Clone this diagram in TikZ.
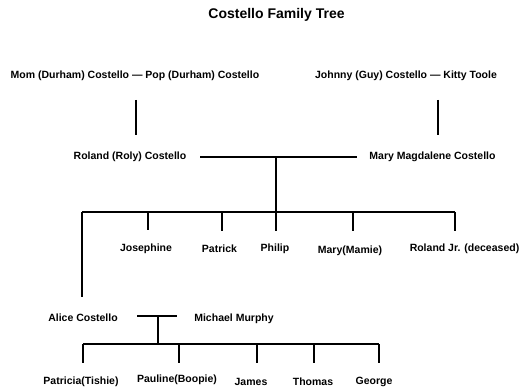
\documentclass[tikz,border=0pt]{standalone}
\usepackage{fontspec}
\setmainfont{Liberation Sans}
\usepackage{tikz}

\tikzset{
  person/.style={font=\bfseries\fontsize{10.5}{12}\selectfont, inner sep=0pt, anchor=base},
  title/.style={font=\bfseries\fontsize{14}{16}\selectfont, inner sep=0pt},
  link/.style={line width=1.2pt}
}

\begin{document}
\begin{tikzpicture}[x=1pt, y=-1pt]

   \useasboundingbox (0,0) rectangle (524,387);

   \node[title] (heading) at (276.5,15) {Costello Family Tree};

   % grandparents
   \node[person] (durham) at (135,79) {Mom (Durham) Costello — Pop (Durham) Costello};
   \node[person] (guy) at (406,79) {Johnny (Guy) Costello — Kitty Toole};

   \coordinate (durhamtop) at (136,100);
   \coordinate (durhambot) at (136,135);
   \coordinate (guytop) at (438,100);
   \coordinate (guybot) at (438,135);
   \draw[link] (durhamtop) -- (durhambot);
   \draw[link] (guytop) -- (guybot);

   % parents
   \node[person] (roland) at (130,160) {Roland (Roly) Costello};
   \node[person] (magdalene) at (432.5,160) {Mary Magdalene Costello};

   \coordinate (wedleft) at (200,157);
   \coordinate (wedright) at (357,157);
   \coordinate (wedmid) at (276,157);
   \draw[link] (wedleft) -- (wedright);

   % children
   \coordinate (sibleft) at (82,212);
   \coordinate (sibright) at (455,212);
   \draw[link] (sibleft) -- (sibright);
   \draw[link] (wedmid) -- (276,231);
   \draw[link] (148,212) -- (148,230);
   \draw[link] (222,212) -- (222,231);
   \draw[link] (353,212) -- (353,231);
   \draw[link] (sibright) -- (455,231);

   \node[person] (josephine) at (146,251.5) {Josephine};
   \node[person] (patrick) at (219.5,252.5) {Patrick};
   \node[person] (philip) at (275,251.5) {Philip};
   \node[person] (mamie) at (350,253) {Mary(Mamie)};
   \node[person] (rolandjr) at (464.5,251.5) {Roland Jr. (deceased)};

   % Alice and family
   \coordinate (alicetop) at (82,297);
   \draw[link] (sibleft) -- (alicetop);

   \node[person] (alice) at (83,321.5) {Alice Costello};
   \node[person] (michael) at (234,321.5) {Michael Murphy};

   \coordinate (marleft) at (137,316);
   \coordinate (marright) at (177,316);
   \coordinate (marmid) at (158,316);
   \coordinate (kidsmid) at (158,344);
   \draw[link] (marleft) -- (marright);
   \draw[link] (marmid) -- (kidsmid);

   \coordinate (kidsleft) at (83,344);
   \coordinate (kidsright) at (379,344);
   \draw[link] (kidsleft) -- (kidsright);
   \draw[link] (kidsleft) -- (83,363);
   \draw[link] (179,344) -- (179,363);
   \draw[link] (257,344) -- (257,363);
   \draw[link] (314,344) -- (314,363);
   \draw[link] (kidsright) -- (379,363);

   \node[person] (patricia) at (81,384.5) {Patricia(Tishie)};
   \node[person] (pauline) at (177,382.5) {Pauline(Boopie)};
   \node[person] (james) at (251,385.5) {James};
   \node[person] (thomas) at (313,385) {Thomas};
   \node[person] (george) at (374,384) {George};

\end{tikzpicture}
\end{document}
